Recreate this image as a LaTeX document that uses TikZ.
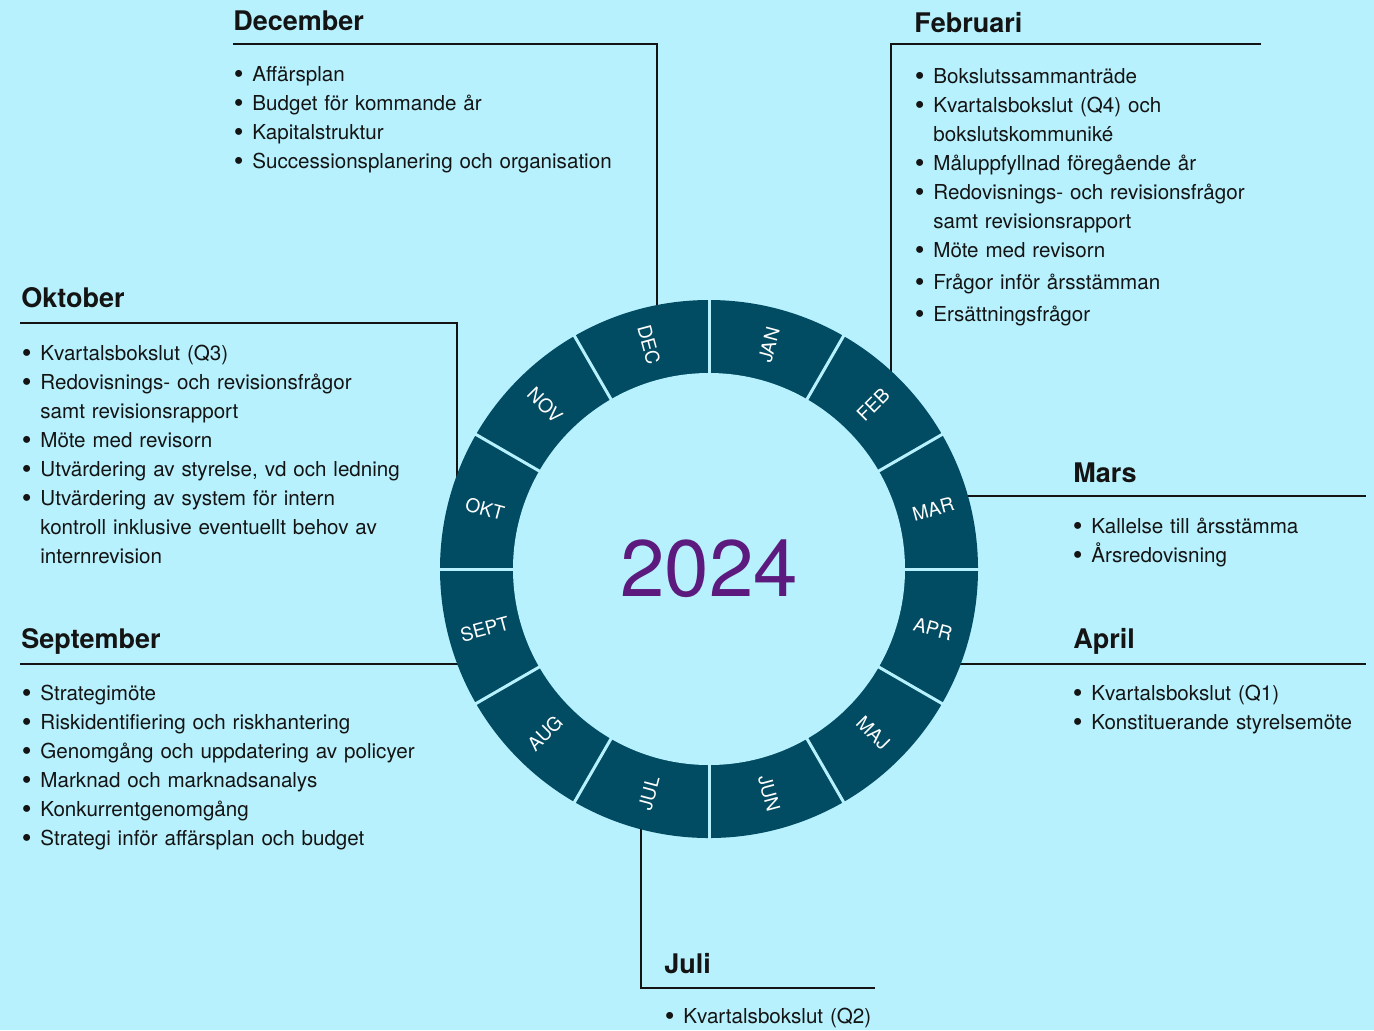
\documentclass[tikz,border=0pt]{standalone}
\usepackage{fontspec}
\usepackage{graphicx}
\setmainfont{TeX Gyre Heros}
\definecolor{SkyBg}{RGB}{183,241,253}
\definecolor{RingTeal}{RGB}{2,76,99}
\definecolor{YearPurple}{RGB}{93,26,126}
\definecolor{InkGray}{RGB}{20,20,20}
\tikzset{
  head/.style={anchor=base west, inner sep=0pt, text=InkGray,
    font=\fontsize{13.5}{15}\selectfont\bfseries},
  list/.style={anchor=base west, inner sep=0pt, text width=250pt, align=left,
    text=InkGray, font=\fontsize{10.3}{14.5}\selectfont},
  rule/.style={draw=InkGray, line width=0.6pt},
  month/.style={text=white, inner sep=0pt, font=\fontsize{9.5}{9.5}\selectfont},
  sep/.style={draw=SkyBg, line width=1.5pt}
}
\newcommand\bl{\makebox[7pt][l]{\hspace*{-2.3pt}\raisebox{-1pt}{\scalebox{1.35}{\textbullet}}}}
\newcommand\cont{\hspace*{7pt}}

\begin{document}
\begin{tikzpicture}[x=0.5pt, y=-0.5pt]
\fill[SkyBg] (0,0) rectangle (1374,1030);
\useasboundingbox (0,0) rectangle (1374,1030);

% rules from the headings to the ring
\coordinate (dec-a) at (233,44);  \coordinate (dec-b) at (657,308);
\coordinate (feb-a) at (1261,44); \coordinate (feb-b) at (891,374);
\coordinate (okt-a) at (20,323);  \coordinate (okt-b) at (457,478);
\coordinate (sep-a) at (20,664);  \coordinate (sep-b) at (462,664);
\coordinate (mar-a) at (966,496); \coordinate (mar-b) at (1366,496);
\coordinate (apr-a) at (956,664); \coordinate (apr-b) at (1366,664);
\coordinate (jul-a) at (641,826); \coordinate (jul-b) at (875,988);

\draw[rule] (dec-a) -| (dec-b);
\draw[rule] (feb-a) -| (feb-b);
\draw[rule] (okt-a) -| (okt-b);
\draw[rule] (sep-a) -- (sep-b);
\draw[rule] (mar-a) -- (mar-b);
\draw[rule] (apr-a) -- (apr-b);
\draw[rule] (jul-a) |- (jul-b);

% the year ring
\coordinate (c) at (709,569);
\begin{scope}[shift={(c)}, y=0.5pt]
  \fill[RingTeal] (0,0) circle (269);
  \fill[SkyBg] (0,0) circle (196);
  \foreach \a in {0,30,...,330}
    \draw[sep] (\a:194) -- (\a:271);
  \foreach \a/\r/\m in {75/75/JAN, 45/45/FEB, 15/15/MAR, -15/-15/APR,
      -45/-45/MAJ, -75/-75/JUN, -105/75/JUL, -135/45/AUG, -165/15/SEPT,
      165/-15/OKT, 135/-45/NOV, 105/-75/DEC}
    \node[month, rotate=\r] (m-\m) at (\a:232) {\m};
\end{scope}
\node[text=YearPurple, font=\fontsize{40}{40}\selectfont] (year) at (c) {2024};

% December
\node[head] (dec) at (233,30) {December};
\node[list] (dec-list) at (238,81) {\bl Affärsplan\\
  \bl Budget för kommande år\\
  \bl Kapitalstruktur\\
  \bl Successionsplanering och organisation};

% Februari
\node[head] (feb) at (914,32) {Februari};
\node[list] (feb-list) at (919,83) {\bl Bokslutssammanträde\\
  \bl Kvartalsbokslut (Q4) och\\
  \cont bokslutskommuniké\\
  \bl Måluppfyllnad föregående år\\
  \bl Redovisnings- och revisionsfrågor\\
  \cont samt revisionsrapport\\
  \bl Möte med revisorn\\[1.5pt]
  \bl Frågor inför årsstämman\\[1.5pt]
  \bl Ersättningsfrågor};

% Oktober
\node[head] (okt) at (21,307) {Oktober};
\node[list] (okt-list) at (26,360) {\bl Kvartalsbokslut (Q3)\\
  \bl Redovisnings- och revisionsfrågor\\
  \cont samt revisionsrapport\\
  \bl Möte med revisorn\\
  \bl Utvärdering av styrelse, vd och ledning\\
  \bl Utvärdering av system för intern\\
  \cont kontroll inklusive eventuellt behov av\\
  \cont internrevision};

% September
\node[head] (sep) at (21,648) {September};
\node[list] (sep-list) at (26,700) {\bl Strategimöte\\
  \bl Riskidentifiering och riskhantering\\
  \bl Genomgång och uppdatering av policyer\\
  \bl Marknad och marknadsanalys\\
  \bl Konkurrentgenomgång\\
  \bl Strategi inför affärsplan och budget};

% Mars
\node[head] (mar) at (1073,482) {Mars};
\node[list] (mar-list) at (1077,533) {\bl Kallelse till årsstämma\\
  \bl Årsredovisning};

% April
\node[head] (apr) at (1073,648) {April};
\node[list] (apr-list) at (1077,700) {\bl Kvartalsbokslut (Q1)\\
  \bl Konstituerande styrelsemöte};

% Juli
\node[head] (jul) at (664,973) {Juli};
\node[list] (jul-list) at (669,1023) {\bl Kvartalsbokslut (Q2)};
\end{tikzpicture}
\end{document}
